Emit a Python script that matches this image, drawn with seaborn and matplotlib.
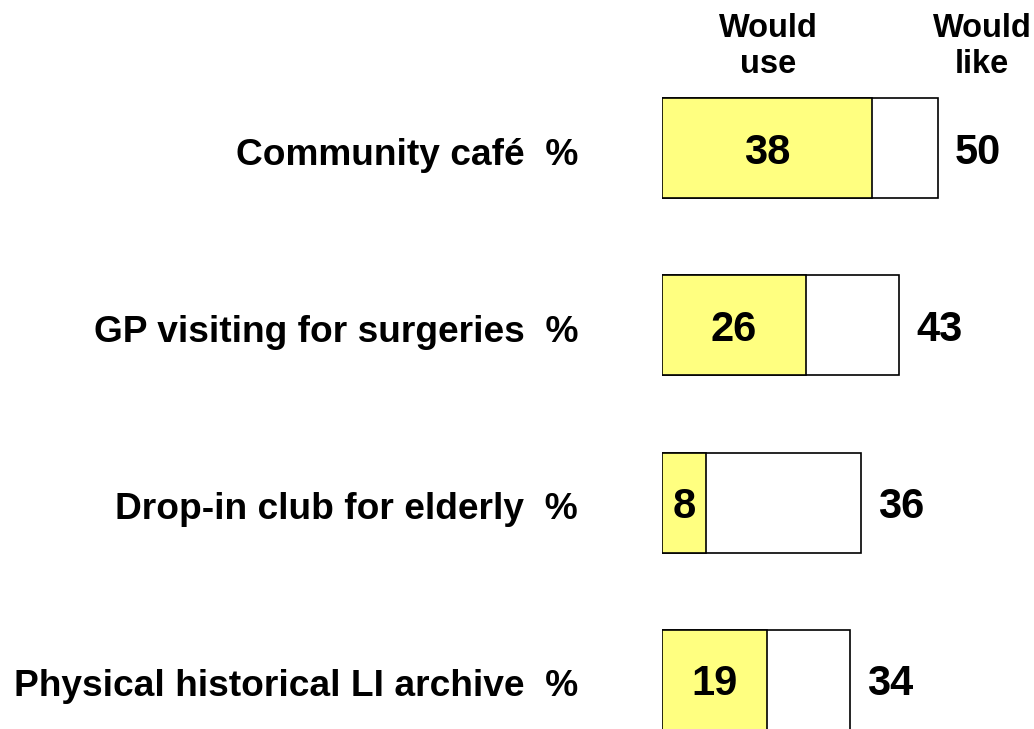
import matplotlib
matplotlib.use("Agg")
import matplotlib.pyplot as plt
import matplotlib.transforms as mtransforms
import seaborn as sns
import pandas as pd

categories = ["Community café", "GP visiting for surgeries", "Drop-in club for elderly", "Physical historical LI archive"]
would_use = [38, 26, 8, 19]
would_like = [50, 43, 36, 34]
header_labels = ["Would\nuse", "Would\nlike"]

sns.set_theme(style="white")
plt.rcParams["font.family"] = ["Liberation Sans", "DejaVu Sans"]
plt.rcParams["text.color"] = "black"

W, H = 1034, 729
fig = plt.figure(figsize=(W / 100, H / 100), dpi=100)
ax_left = 662
ax = fig.add_axes([ax_left / W, 0, (W - ax_left) / W, 1])

df = pd.DataFrame({"cat": categories, "use": would_use, "like": would_like})
bw = 100 / 177.3
sns.barplot(data=df, x="like", y="cat", orient="h", color="white", edgecolor="black",
            linewidth=1.2, width=bw, ax=ax, saturation=1)
sns.barplot(data=df, x="use", y="cat", orient="h", color="#FFFF80", edgecolor="black",
            linewidth=1.2, width=bw, ax=ax, saturation=1)

px = 5.52
ax.set_xlim(0, (W - ax_left) / px)
top = -148 / 177.3
ax.set_ylim(3 + (729 - 680) / 177.3, top)

shift = mtransforms.ScaledTranslation(0, -4.5 / 100, fig.dpi_scale_trans)
for i, (u, l) in enumerate(zip(would_use, would_like)):
    ax.text(u / 2, i, str(u), ha="center", va="center", fontsize=30, fontweight="bold",
            color="black", transform=ax.transData + shift)
    ax.text(l + 3.1, i, str(l), ha="left", va="center", fontsize=30, fontweight="bold",
            color="black", transform=ax.transData + shift)

ax.set_yticks(range(len(categories)))
ax.set_yticklabels([c + "  %" for c in categories], fontsize=26.7, fontweight="bold", color="black")
ax.tick_params(axis="y", length=0, pad=84 * 0.72)
for t in ax.get_yticklabels():
    t.set_transform(t.get_transform() + mtransforms.ScaledTranslation(0, -3 / 100, fig.dpi_scale_trans))
ax.set_xticks([])
ax.set_xlabel("")
ax.set_ylabel("")
for s in ax.spines.values():
    s.set_visible(False)

fig.text(768 / W, 1 - 13 / H, header_labels[0], ha="center", va="top", fontsize=23.5,
         fontweight="bold", linespacing=1.2, color="black")
fig.text(982 / W, 1 - 13 / H, header_labels[1], ha="center", va="top", fontsize=23.5,
         fontweight="bold", linespacing=1.2, color="black")

fig.savefig("out.png", dpi=100, facecolor="white")
